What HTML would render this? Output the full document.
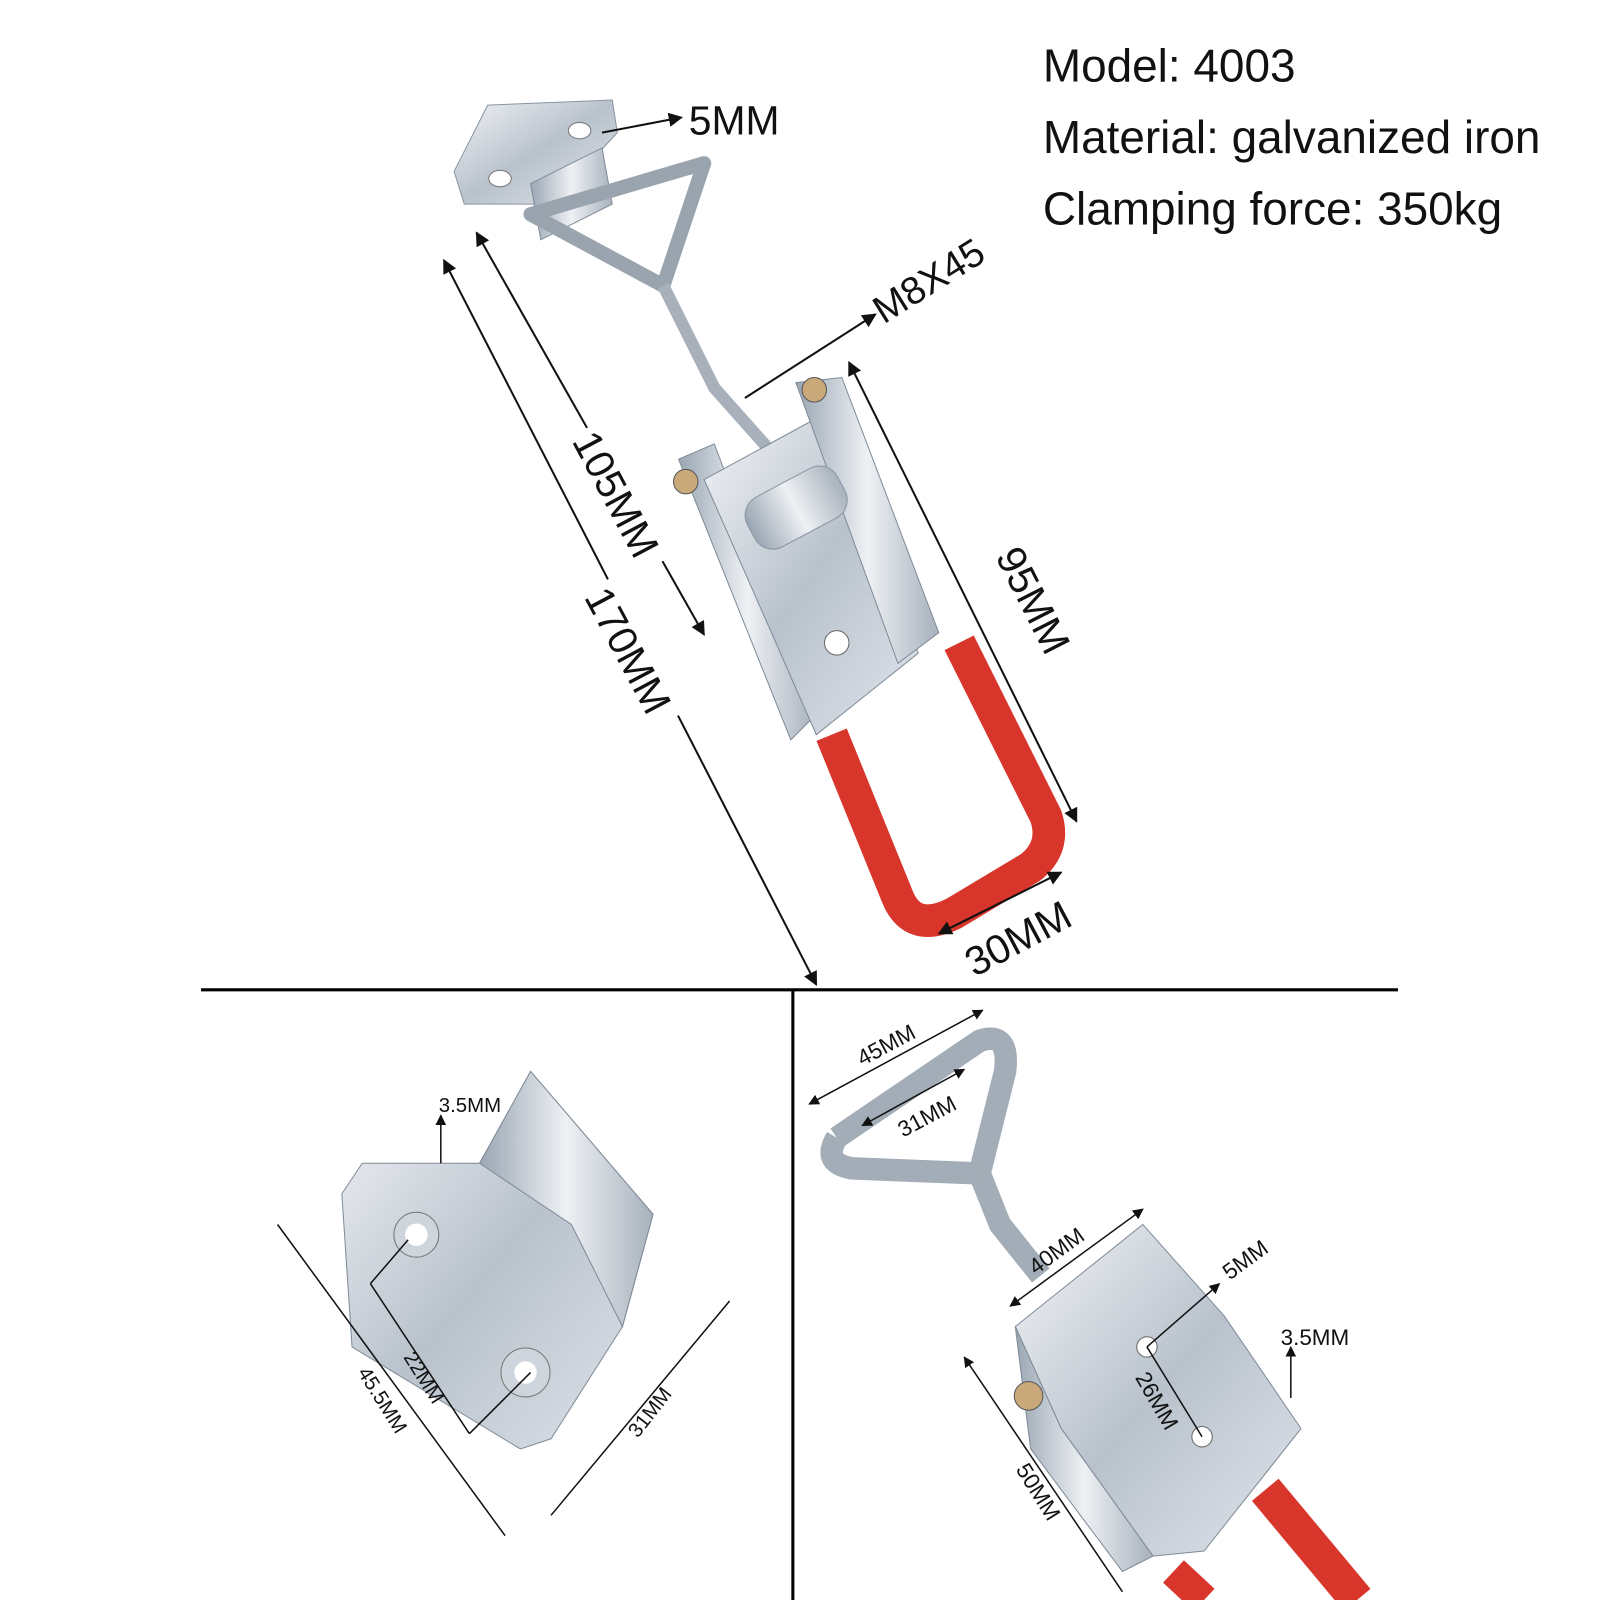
<!DOCTYPE html>
<html><head><meta charset="utf-8"><style>
html,body{margin:0;padding:0;background:#fff;}
svg{display:block;}
text{font-family:"Liberation Sans",sans-serif;}
.d{font-family:"Liberation Sans Narrow","Liberation Sans",sans-serif;fill:#111;}
</style></head><body>
<svg width="1600" height="1600" viewBox="0 0 1568 1568" xmlns="http://www.w3.org/2000/svg">
<defs>
<linearGradient id="m" x1="0" y1="0" x2="1" y2="1">
<stop offset="0" stop-color="#f2f4f7"/><stop offset="0.5" stop-color="#b9c2cc"/><stop offset="1" stop-color="#dfe4ea"/></linearGradient>
<linearGradient id="m2" x1="0" y1="0" x2="1" y2="0">
<stop offset="0" stop-color="#9aa6b3"/><stop offset="0.5" stop-color="#eef1f4"/><stop offset="1" stop-color="#a7b1bc"/></linearGradient>
<marker id="a" viewBox="0 0 10 10" refX="9" refY="5" markerWidth="7" markerHeight="7" orient="auto-start-reverse"><path d="M0,0L10,5L0,10z" fill="#111"/></marker>
</defs>
<rect width="1568" height="1568" fill="#fff"/>

<text x="1022" y="80" font-size="45" fill="#111">Model: 4003</text>
<text x="1022" y="150" font-size="45" fill="#111">Material: galvanized iron</text>
<text x="1022" y="220" font-size="45" fill="#111">Clamping force: 350kg</text>

<line x1="197" y1="970" x2="1370" y2="970" stroke="#000" stroke-width="3"/>
<line x1="777" y1="970" x2="777" y2="1568" stroke="#000" stroke-width="3"/>

<polygon points="445,168 478,103 600,98 605,130 540,200 455,200" fill="url(#m)" stroke="#8a96a3"/>
<ellipse cx="490" cy="175" rx="11" ry="8" fill="#fff" stroke="#777"/>
<ellipse cx="568" cy="128" rx="11" ry="8" fill="#fff" stroke="#777"/>
<polygon points="520,180 590,145 600,200 530,235" fill="url(#m2)" stroke="#7f8b98"/>
<path d="M520,210 L690,160 L650,280 Z" fill="none" stroke="#9aa4ae" stroke-width="14" stroke-linejoin="round"/>
<path d="M650,280 L700,380 L780,470" fill="none" stroke="#a8b1bb" stroke-width="12"/>
<polygon points="665,450 700,435 800,700 775,725" fill="url(#m2)" stroke="#7f8b98"/>
<polygon points="690,470 800,410 900,640 800,720" fill="url(#m)" stroke="#7f8b98"/>
<polygon points="780,375 825,370 920,620 880,650" fill="url(#m2)" stroke="#7f8b98"/>
<rect x="730" y="470" width="100" height="55" rx="20" fill="url(#m2)" stroke="#8a96a3" transform="rotate(-28 780 497)"/>
<circle cx="672" cy="472" r="12" fill="#c9a97a" stroke="#555"/>
<circle cx="798" cy="382" r="12" fill="#c9a97a" stroke="#555"/>
<circle cx="820" cy="630" r="12" fill="#fff" stroke="#666"/>
<path d="M815,720 L880,880 Q895,915 935,895 L1010,850 Q1035,830 1025,800 L940,630" fill="none" stroke="#d9362b" stroke-width="32" stroke-linejoin="round"/>

<line x1="590" y1="130" x2="668" y2="115" stroke="#111" stroke-width="2" marker-end="url(#a)"/>
<text class="d" x="675" y="132" font-size="40">5MM</text>
<line x1="730" y1="390" x2="858" y2="308" stroke="#111" stroke-width="2" marker-end="url(#a)"/>
<text class="d" font-size="38" transform="translate(866,318) rotate(-32)">M8X45</text>
<line x1="435" y1="255" x2="800" y2="965" stroke="#111" stroke-width="2" marker-start="url(#a)" marker-end="url(#a)"/>
<line x1="467" y1="228" x2="690" y2="622" stroke="#111" stroke-width="2" marker-start="url(#a)" marker-end="url(#a)"/>
<g transform="translate(560,432) rotate(62)"><rect x="-4" y="-34" width="150" height="40" fill="#fff"/><text class="d" font-size="40">105MM</text></g>
<g transform="translate(572,585) rotate(62)"><rect x="-4" y="-34" width="150" height="40" fill="#fff"/><text class="d" font-size="40">170MM</text></g>
<line x1="832" y1="355" x2="1055" y2="805" stroke="#111" stroke-width="2" marker-start="url(#a)" marker-end="url(#a)"/>
<text class="d" font-size="40" transform="translate(975,545) rotate(63)">95MM</text>
<line x1="920" y1="915" x2="1040" y2="855" stroke="#111" stroke-width="2" marker-start="url(#a)" marker-end="url(#a)"/>
<text class="d" font-size="40" transform="translate(955,958) rotate(-28)">30MM</text>

<polygon points="355,1140 470,1140 520,1050 640,1190 610,1300 540,1410 510,1420 345,1320 335,1170" fill="url(#m)" stroke="#7f8b98"/>
<polygon points="470,1140 520,1050 640,1190 610,1300 560,1200" fill="url(#m2)" stroke="#7f8b98"/>
<circle cx="408" cy="1210" r="22" fill="#cfd5dc" stroke="#777"/><circle cx="408" cy="1210" r="11" fill="#fff"/>
<circle cx="515" cy="1345" r="24" fill="#cfd5dc" stroke="#777"/><circle cx="515" cy="1345" r="11" fill="#fff"/>
<line x1="272" y1="1200" x2="495" y2="1505" stroke="#111" stroke-width="1.5"/>
<line x1="363" y1="1258" x2="460" y2="1405" stroke="#111" stroke-width="1.5"/>
<line x1="400" y1="1215" x2="363" y2="1258" stroke="#111" stroke-width="1.5"/>
<line x1="520" y1="1345" x2="460" y2="1405" stroke="#111" stroke-width="1.5"/>
<line x1="540" y1="1485" x2="715" y2="1275" stroke="#111" stroke-width="1.5"/>
<line x1="432" y1="1140" x2="432" y2="1093" stroke="#111" stroke-width="1.5" marker-end="url(#a)"/>
<text class="d" x="430" y="1090" font-size="20">3.5MM</text>
<text class="d" font-size="20" transform="translate(350,1345) rotate(58)">45.5MM</text>
<text class="d" font-size="20" transform="translate(395,1330) rotate(58)">22MM</text>
<text class="d" font-size="20" transform="translate(625,1410) rotate(-52)">31MM</text>

<path d="M820,1115 L960,1020 Q990,1010 985,1050 L960,1150 L980,1200 L1020,1250" fill="none" stroke="#a3adb7" stroke-width="22" stroke-linejoin="round"/>
<path d="M820,1115 Q805,1140 835,1145 L960,1150" fill="none" stroke="#a3adb7" stroke-width="22"/>
<polygon points="995,1300 1120,1200 1200,1290 1275,1400 1180,1520 1130,1525 1040,1400" fill="url(#m)" stroke="#7f8b98"/>
<polygon points="995,1300 1040,1400 1130,1525 1100,1540 1010,1420" fill="url(#m2)" stroke="#7f8b98"/>
<circle cx="1008" cy="1368" r="14" fill="#c9a97a" stroke="#555"/>
<circle cx="1124" cy="1320" r="10" fill="#fff" stroke="#666"/>
<circle cx="1178" cy="1408" r="10" fill="#fff" stroke="#666"/>
<path d="M1240,1460 L1330,1568" stroke="#d9362b" stroke-width="34"/>
<path d="M1150,1540 L1180,1568" stroke="#d9362b" stroke-width="30"/>
<line x1="793" y1="1082" x2="963" y2="990" stroke="#111" stroke-width="1.5" marker-start="url(#a)" marker-end="url(#a)"/>
<text class="d" font-size="22" transform="translate(845,1045) rotate(-28)">45MM</text>
<line x1="845" y1="1103" x2="945" y2="1048" stroke="#111" stroke-width="1.5" marker-start="url(#a)" marker-end="url(#a)"/>
<text class="d" font-size="22" transform="translate(885,1115) rotate(-28)">31MM</text>
<line x1="990" y1="1280" x2="1120" y2="1185" stroke="#111" stroke-width="1.5" marker-start="url(#a)" marker-end="url(#a)"/>
<text class="d" font-size="22" transform="translate(1015,1250) rotate(-36)">40MM</text>
<line x1="1124" y1="1320" x2="1195" y2="1258" stroke="#111" stroke-width="1.5" marker-end="url(#a)"/>
<text class="d" font-size="22" transform="translate(1205,1255) rotate(-36)">5MM</text>
<line x1="1124" y1="1320" x2="1178" y2="1408" stroke="#111" stroke-width="1.5"/>
<text class="d" font-size="22" transform="translate(1112,1350) rotate(60)">26MM</text>
<line x1="1265" y1="1370" x2="1265" y2="1320" stroke="#111" stroke-width="1.5" marker-end="url(#a)"/>
<text class="d" x="1255" y="1318" font-size="22">3.5MM</text>
<line x1="945" y1="1330" x2="1100" y2="1560" stroke="#111" stroke-width="1.5" marker-start="url(#a)"/>
<text class="d" font-size="22" transform="translate(995,1440) rotate(58)">50MM</text>
</svg>
</body></html>
